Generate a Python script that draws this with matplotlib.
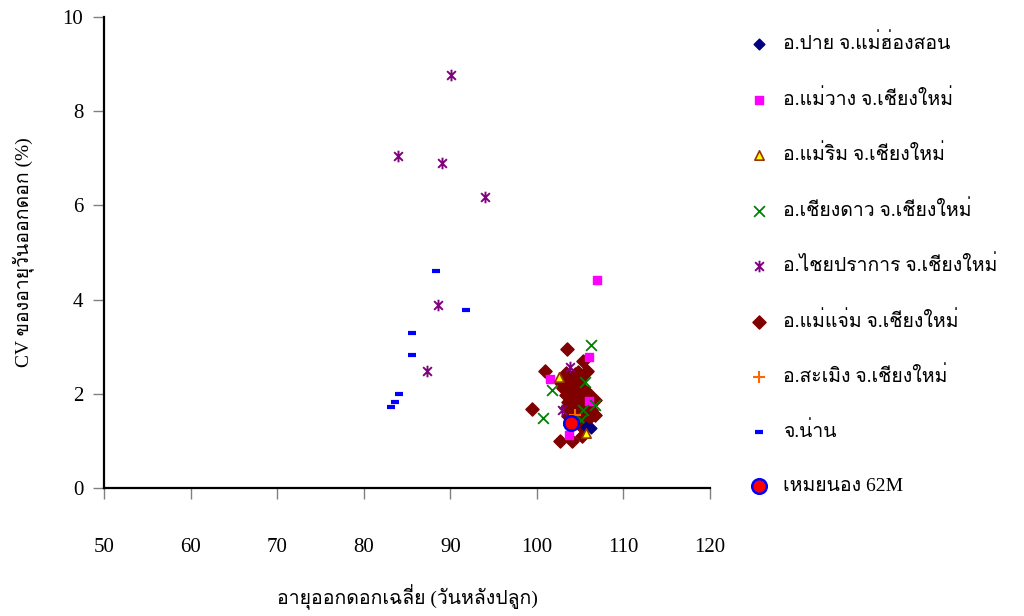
import numpy as np
import matplotlib
matplotlib.use("Agg")
from matplotlib import pyplot as plt
from matplotlib import font_manager
from matplotlib.path import Path

# look for any installed font that has Thai glyphs
thai_font = None
for f in font_manager.fontManager.ttflist:
    try:
        if 0x0E01 in font_manager.get_font(f.fname).get_charmap():
            thai_font = f.name
            break
    except Exception:
        pass
families = ['Liberation Serif'] + ([thai_font] if thai_font else []) + ['DejaVu Sans']
plt.rcParams['font.family'] = families

# data (average flowering age, CV of flowering age)
pai_x = [106.3, 105.7]
pai_y = [1.27, 1.30]

maewang_x = [107.0, 106.0, 101.5, 103.7, 106.0]
maewang_y = [4.42, 2.79, 2.31, 1.12, 1.85]

maerim_x = [102.6, 105.7]
maerim_y = [2.36, 1.16]

chiangdao_x = [106.3, 101.7, 100.7, 105.5, 105.1, 106.7, 105.3]
chiangdao_y = [3.04, 2.08, 1.48, 2.26, 1.44, 1.76, 1.66]

chaiprakan_x = [90.1, 83.9, 89.0, 94.0, 88.6, 87.3, 103.8, 102.9]
chaiprakan_y = [8.77, 7.05, 6.91, 6.18, 3.88, 2.48, 2.56, 1.66]

maechaem_x = [103.5, 105.3, 100.9, 105.8, 99.4, 102.7, 104.0, 105.2,
              104.4, 104.8, 105.7, 103.4, 103.8, 105.0, 104.6, 104.0,
              103.4, 104.2, 105.2, 104.8, 105.5, 103.6, 104.4, 105.4,
              106.1, 106.7, 103.4, 104.0, 105.0, 105.7, 106.3, 106.7,
              103.6, 104.6, 105.5, 106.1, 103.8, 105.2, 105.7, 103.0,
              102.8, 103.4, 105.4, 105.9]
maechaem_y = [2.96, 2.70, 2.48, 2.48, 1.68, 1.00, 1.00, 1.10,
              2.43, 2.47, 2.47, 2.29, 2.22, 2.29, 2.15, 2.05,
              1.98, 1.98, 2.01, 1.90, 1.90, 1.83, 1.80, 1.83,
              1.83, 1.87, 1.69, 1.66, 1.69, 1.69, 1.66, 1.55,
              1.52, 1.53, 1.55, 1.50, 1.34, 1.30, 1.34, 2.12,
              2.22, 2.44, 2.08, 2.01]

samoeng_x = [104.4]
samoeng_y = [1.56]

nan_x = [88.4, 91.8, 85.6, 85.6, 84.1, 83.6, 83.2]
nan_y = [4.60, 3.77, 3.30, 2.82, 1.99, 1.83, 1.73]

meinong_x = [103.9]
meinong_y = [1.37]

labels = ["อ.ปาย จ.แม่ฮ่องสอน", "อ.แม่วาง จ.เชียงใหม่", "อ.แม่ริม จ.เชียงใหม่",
          "อ.เชียงดาว จ.เชียงใหม่", "อ.ไชยปราการ จ.เชียงใหม่", "อ.แม่แจ่ม จ.เชียงใหม่",
          "อ.สะเมิง จ.เชียงใหม่", "จ.น่าน", "เหมยนอง 62M"]

# excel style asterisk: vertical bar plus an x
star = Path([(0, -1), (0, 1), (-0.75, -0.75), (0.75, 0.75), (-0.75, 0.75), (0.75, -0.75)],
            [Path.MOVETO, Path.LINETO] * 3)

fig = plt.figure(figsize=(10.24, 6.16), dpi=100)
ax = fig.add_axes([0.1016, 0.2078, 0.5918, 0.7646])

h = []
h.append(ax.scatter(pai_x, pai_y, marker='D', s=30, color='#000080', zorder=4))
h.append(ax.scatter(maewang_x, maewang_y, marker='s', s=40, color='#FF00FF', zorder=3))
h.append(ax.scatter(maerim_x, maerim_y, marker='^', s=45, facecolor='#FFFF00', edgecolor='#993300', linewidths=1.2, zorder=4))
h.append(ax.scatter(chiangdao_x, chiangdao_y, marker='x', s=60, color='#008000', linewidths=1.3, zorder=3))
h.append(ax.scatter(chaiprakan_x, chaiprakan_y, marker=star, s=70, color='#800080', linewidths=1.4, zorder=3))
h.append(ax.scatter(maechaem_x, maechaem_y, marker='D', s=45, color='#800000', zorder=2))
h.append(ax.scatter(samoeng_x, samoeng_y, marker='+', s=70, color='#FF6600', linewidths=1.5, zorder=4))
h.append(ax.scatter(nan_x, nan_y, marker='_', s=30, color='#0000FF', linewidths=3, zorder=3))
h.append(ax.scatter(meinong_x, meinong_y, marker='o', s=110, facecolor='#FF0000', edgecolor='#0000FF', linewidths=1.8, zorder=5))

ax.set_xlim(50, 120)
ax.set_ylim(0, 10)
ax.set_xticks(np.arange(50, 121, 10))
ax.set_yticks(np.arange(0, 11, 2))
for s in ['top', 'right']:
    ax.spines[s].set_visible(False)
for s in ['left', 'bottom']:
    ax.spines[s].set_linewidth(1.6)
ax.tick_params(axis='both', direction='out', length=8, width=1, color='#808080', labelsize=15)
ax.tick_params(axis='x', pad=28)
ax.tick_params(axis='y', pad=7)

ax.set_xlabel("อายุออกดอกเฉลี่ย (วันหลังปลูก)", fontsize=14)
ax.set_ylabel("CV ของอายุวันออกดอก (%)", fontsize=14)
ax.xaxis.set_label_coords(0.5, -0.205)
ax.yaxis.set_label_coords(-0.115, 0.5)

fig.legend(h, labels, loc='upper left', bbox_to_anchor=(0.7246, 0.958), frameon=False,
           fontsize=14, labelspacing=1.83, handlelength=1.0, handletextpad=0.7,
           scatterpoints=1, borderaxespad=0)

fig.savefig("out.png", dpi=100)
